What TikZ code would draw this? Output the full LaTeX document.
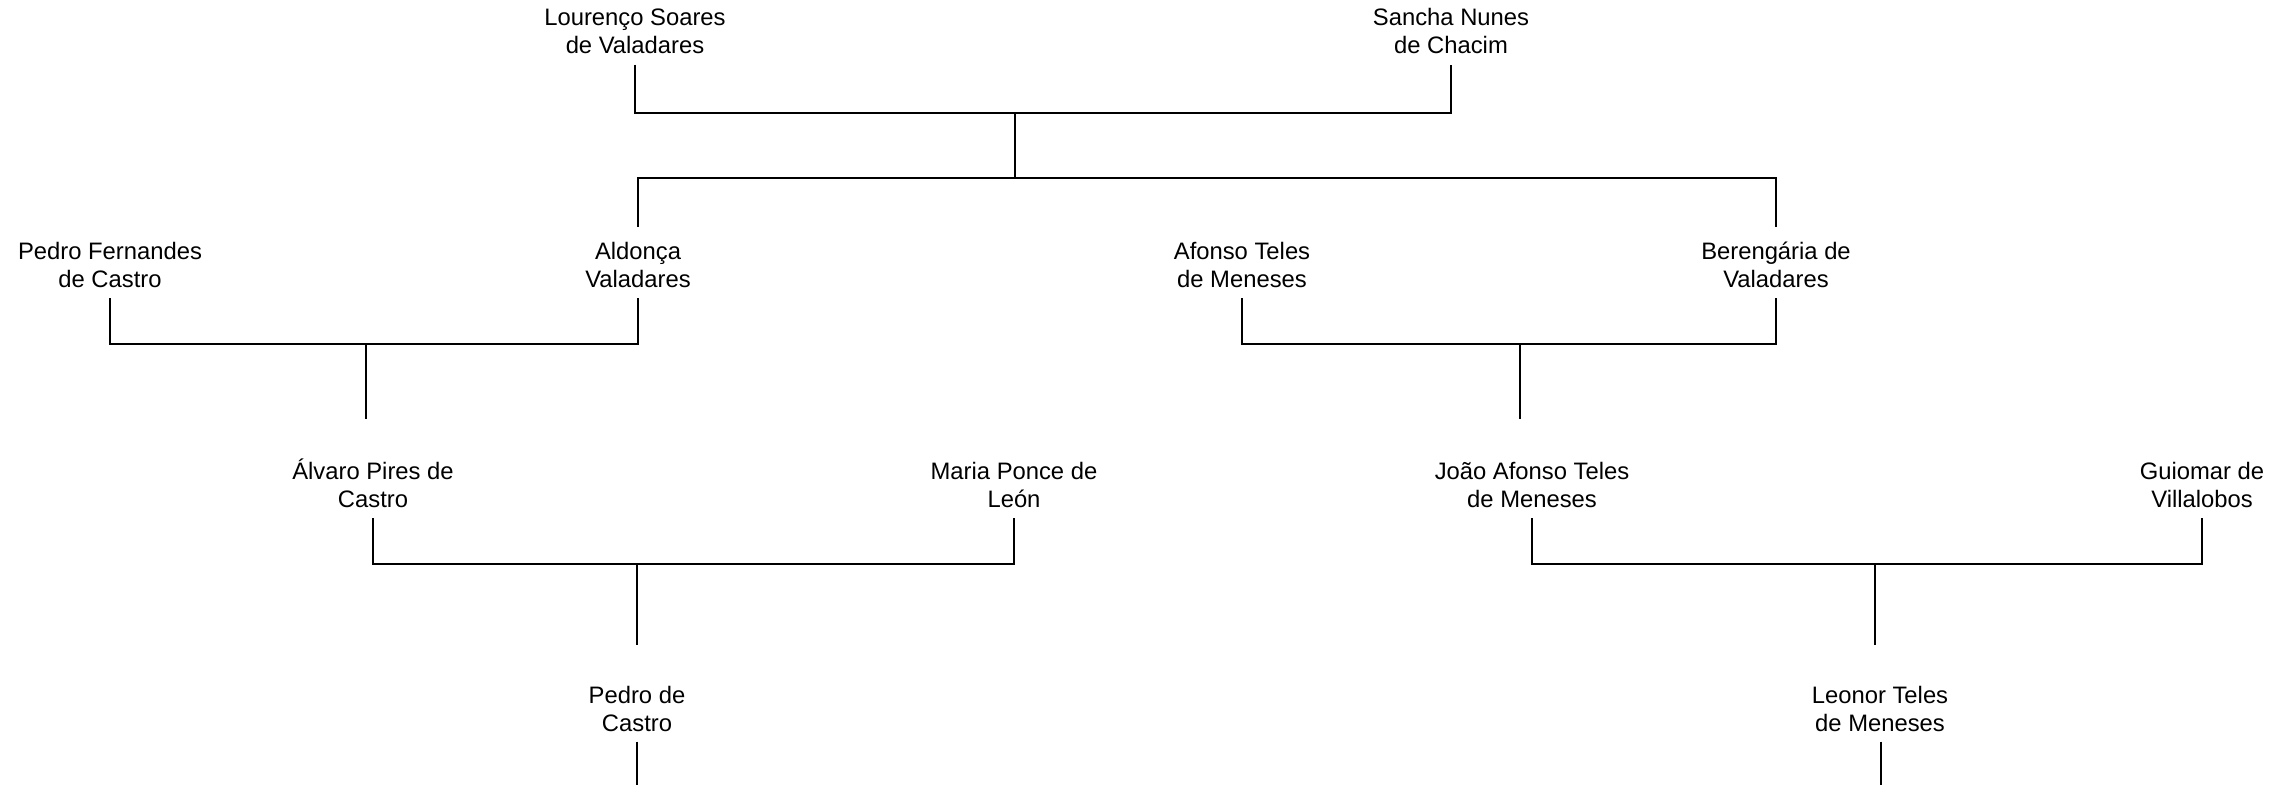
\documentclass[tikz,border=0pt]{standalone}
\usepackage{fontspec}
\setmainfont{Liberation Sans}
\begin{document}
\begin{tikzpicture}[x=0.5pt,y=-0.5pt,
  person/.style={align=center,anchor=base,inner xsep=0pt,inner ysep=5pt,
    font=\fontsize{11.9}{14}\selectfont},
  link/.style={draw=black,line width=0.65pt}]
\useasboundingbox (0,0) rectangle (2290,785);
% row 1
\node[person] (lour)   at (635,54)  {Lourenço Soares\\de Valadares};
\node[person] (sancha) at (1451,54) {Sancha Nunes\\de Chacim};
% row 2
\node[person] (pedrof) at (110,287.5)  {Pedro Fernandes\\de Castro};
\node[person] (aldonca) at (638,287.5) {Aldonça\\Valadares};
\node[person] (afonso) at (1242,287.5) {Afonso Teles\\de Meneses};
\node[person] (beren)  at (1776,287.5) {Berengária de\\Valadares};
% row 3
\node[person] (alvaro) at (373,507.5)  {Álvaro Pires de\\Castro};
\node[person] (maria)  at (1014,507.5) {Maria Ponce de\\León};
\node[person] (joao)   at (1532,507.5) {João Afonso Teles\\de Meneses};
\node[person] (guiomar) at (2202,507.5) {Guiomar de\\Villalobos};
% row 4
\node[person] (pedroc) at (637,731)  {Pedro de\\Castro};
\node[person] (leonor) at (1880,731) {Leonor Teles\\de Meneses};
% junctions
\coordinate (m1) at (1015,113);
\coordinate (m2) at (1015,178);
\coordinate (m3) at (366,344);
\coordinate (e3) at (366,419);
\coordinate (m4) at (1520,344);
\coordinate (e4) at (1520,419);
\coordinate (m5) at (637,564);
\coordinate (e5) at (637,645);
\coordinate (m6) at (1875,564);
\coordinate (e6) at (1875,645);
\coordinate (b1) at (637,785);
\coordinate (b2) at (1881,785);
% connectors
\draw[link] (lour.south) -- (lour.south |- m1) -- (sancha.south |- m1) -- (sancha.south);
\draw[link] (m1) -- (m2);
\draw[link] ([yshift=2.5pt]aldonca.north) -- (aldonca.north |- m2) -- (beren.north |- m2) -- ([yshift=2.5pt]beren.north);
\draw[link] (pedrof.south) -- (pedrof.south |- m3) -- (aldonca.south |- m3) -- (aldonca.south);
\draw[link] (m3) -- (e3);
\draw[link] (afonso.south) -- (afonso.south |- m4) -- (beren.south |- m4) -- (beren.south);
\draw[link] (m4) -- (e4);
\draw[link] (alvaro.south) -- (alvaro.south |- m5) -- (maria.south |- m5) -- (maria.south);
\draw[link] (m5) -- (e5);
\draw[link] (joao.south) -- (joao.south |- m6) -- (guiomar.south |- m6) -- (guiomar.south);
\draw[link] (m6) -- (e6);
\draw[link] (pedroc.south) -- (b1);
\draw[link] ([xshift=0.5pt]leonor.south) -- (b2);
\end{tikzpicture}
\end{document}
